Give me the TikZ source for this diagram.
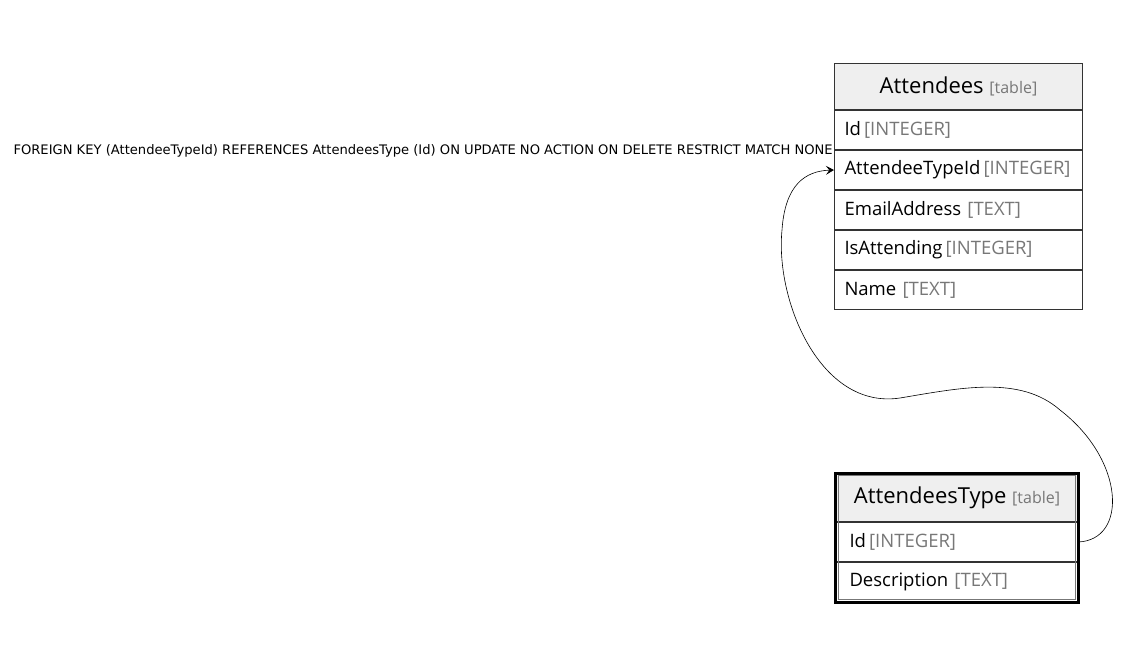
\documentclass[tikz,border=0pt]{standalone}
\usepackage{fontspec}
\setmainfont{Open Sans}
\newfontfamily\fkfont{DejaVu Sans}
\usetikzlibrary{positioning,arrows.meta}

\definecolor{hdrgray}{HTML}{EFEFEF}
\definecolor{typegray}{HTML}{777777}
\definecolor{linegray}{HTML}{333333}

\newcommand\coltype[1]{{\color{typegray}[#1]}}
\newcommand\tbltag{{\fontsize{16}{18}\selectfont\color{typegray}[table]}}

\tikzset{
  tblhead/.style={draw=linegray, fill=hdrgray, line width=1.2pt, inner sep=0pt,
    minimum height=45.8pt, align=center, font=\fontsize{22}{26}\selectfont},
  tblrow/.style={draw=linegray, line width=1.2pt, inner ysep=0pt, inner xsep=10pt,
    minimum height=38.8pt, align=left, font=\fontsize{18.5}{21}\selectfont},
  fklink/.style={-{Stealth[length=8pt,width=9pt,inset=3.5pt]}, semithick}
}

\begin{document}
\begin{tikzpicture}[x=1pt,y=-1pt,node distance=0pt]
\useasboundingbox (0,0) rectangle (1145,669);

% Attendees
\node[tblhead,minimum width=248pt] (att-head) at (958.5,86.5) {Attendees \tbltag};
\node[tblrow,text width=228pt,below=of att-head] (att-id) {Id\,\coltype{INTEGER}};
\node[tblrow,text width=228pt,below=of att-id] (att-type) {AttendeeTypeId\,\coltype{INTEGER}};
\node[tblrow,text width=228pt,below=of att-type] (att-mail) {EmailAddress \coltype{TEXT}};
\node[tblrow,text width=228pt,below=of att-mail] (att-isatt) {IsAttending\,\coltype{INTEGER}};
\node[tblrow,text width=228pt,below=of att-isatt] (att-name) {Name \coltype{TEXT}};

% AttendeesType
\node[tblhead,minimum width=241pt,minimum height=47.8pt] (ty-head) at (957,497.5) {AttendeesType \tbltag};
\node[tblrow,text width=215pt,inner xsep=13pt,below=of ty-head] (ty-id) {Id\,\coltype{INTEGER}};
\node[tblrow,text width=215pt,inner xsep=13pt,below=of ty-id] (ty-desc) {Description \coltype{TEXT}};
\draw[line width=3pt] (ty-head.north west) rectangle (ty-desc.south east);
\draw[typegray,line width=1pt] ([shift={(2.5pt,-2.5pt)}]ty-head.north west)
  rectangle ([shift={(-2.5pt,2.5pt)}]ty-desc.south east);

% foreign key
\node[anchor=east,inner sep=1pt,yshift=-1pt,font=\fkfont\fontsize{13.1}{15}\selectfont]
  (fk-label) at (att-id.south west) {FOREIGN KEY (AttendeeTypeId) REFERENCES AttendeesType (Id) ON UPDATE NO ACTION ON DELETE RESTRICT MATCH NONE};
\draw[fklink] (ty-id.east) .. controls (1128,540) and (1125,460) .. (1060,410)
  .. controls (1020,375) and (960,388) .. (900,398)
  .. controls (820,410) and (775,300) .. (782,230)
  .. controls (785,185) and (805,171) .. (att-type.west);
\end{tikzpicture}
\end{document}
